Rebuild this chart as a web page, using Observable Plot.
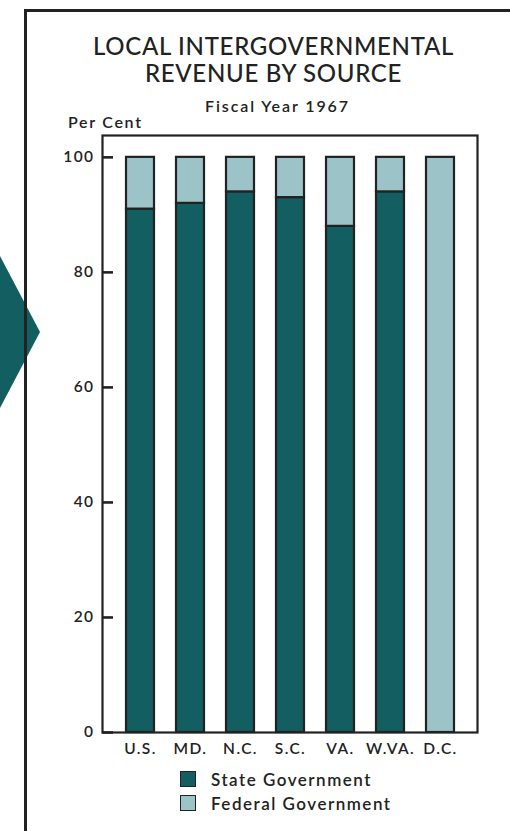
<!DOCTYPE html>
<html>
<head>
<meta charset="utf-8">
<script src="https://cdn.jsdelivr.net/npm/d3@7"></script>
<script src="https://cdn.jsdelivr.net/npm/@observablehq/plot@0.6"></script>
<style>
  html, body { margin: 0; padding: 0; background: #fff; }
  #page { position: relative; width: 510px; height: 831px; overflow: hidden; font-family: Lato, "Noto Sans", sans-serif; color: #222; }
  .txt { position: absolute; white-space: nowrap; }
  #title { left: 36px; width: 475px; top: 32px; text-align: center; font-size: 24px; font-weight: 500; line-height: 27px; letter-spacing: 0.7px; }
  #subtitle { left: 36px; width: 483px; top: 96px; text-align: center; font-size: 16px; font-weight: 600; letter-spacing: 1.9px; }
  #unit { left: 68px; top: 112px; font-size: 16px; font-weight: 600; letter-spacing: 1.7px; }
  #chart { position: absolute; left: 0; top: 120px; }
  #legend { position: absolute; left: 180px; top: 767px; font-size: 17px; font-weight: 600; letter-spacing: 1.5px; }
  .row { display: flex; align-items: center; height: 24px; }
  .sw { width: 14px; height: 14px; border: 1.5px solid #222; margin-right: 15px; }
  #border { position: absolute; left: 24px; top: 9px; width: 600px; height: 900px; border-left: 3px solid #222; border-top: 3px solid #222; }
  #pointer { position: absolute; left: -60px; top: 256px; width: 100px; height: 152px; background: #135e61; clip-path: polygon(0 50%, 60% 0, 100% 50%, 60% 100%); }
</style>
</head>
<body>
<div id="page">
  <div id="pointer"></div>
  <div id="border"></div>
  <div id="title" class="txt">LOCAL INTERGOVERNMENTAL<br>REVENUE BY SOURCE</div>
  <div id="subtitle" class="txt">Fiscal Year 1967</div>
  <div id="unit" class="txt">Per Cent</div>
  <div id="chart"></div>
  <div id="legend"></div>
</div>
<script>
// Share of local intergovernmental revenue, fiscal year 1967 (per cent)
const places = ["U.S.", "MD.", "N.C.", "S.C.", "VA.", "W.VA.", "D.C."];
const stateShare = [91, 92, 94, 93, 88, 94, 0];
const federalShare = [9, 8, 6, 7, 12, 6, 100];
const sources = ["State Government", "Federal Government"];
const sourceColors = ["#135e61", "#9cc4c8"];
const yTicks = [0, 20, 40, 60, 80, 100];

const ink = "#222";
const tickLength = 11;
const frameWidth = 510 - 102 - 33;

// Long table: state rows first so they stack at the bottom
const rows = [
  ...places.map((p, i) => ({place: p, source: sources[0], value: stateShare[i]})),
  ...places.map((p, i) => ({place: p, source: sources[1], value: federalShare[i]}))
].filter(d => d.value > 0);

const chart = Plot.plot({
  width: 510,
  height: 640,
  marginLeft: 102,
  marginRight: 33,
  marginTop: 15,
  marginBottom: 28,
  style: {fontFamily: "Lato, 'Noto Sans', sans-serif", fontSize: "15.5px", fontWeight: "600", color: ink, background: "transparent", letterSpacing: "1.4px"},
  x: {domain: places, paddingInner: 0.45, paddingOuter: 0.43, label: null},
  y: {domain: [0, 103.8], label: null},
  color: {domain: sources, range: sourceColors},
  marks: [
    Plot.barY(rows, {x: "place", y: "value", fill: "source", stroke: ink, strokeWidth: 2.2}),
    Plot.frame({stroke: ink, strokeWidth: 2.2}),
    // short inward tick marks along the left edge of the frame
    Plot.ruleY(yTicks, {y: d => d, stroke: ink, strokeWidth: 2.6, insetRight: frameWidth - tickLength}),
    Plot.axisY({ticks: yTicks, tickSize: 0, tickPadding: 8, label: null}),
    Plot.axisX({tickSize: 0, tickPadding: 10, label: null})
  ]
});
document.getElementById("chart").appendChild(chart);

// Legend: one swatch per revenue source, stacked vertically
const legend = d3.select("#legend");
sources.forEach((s, i) => {
  const row = legend.append("div").attr("class", "row");
  row.append("div").attr("class", "sw").style("background", sourceColors[i]);
  row.append("span").text(s);
});
</script>
</body>
</html>
